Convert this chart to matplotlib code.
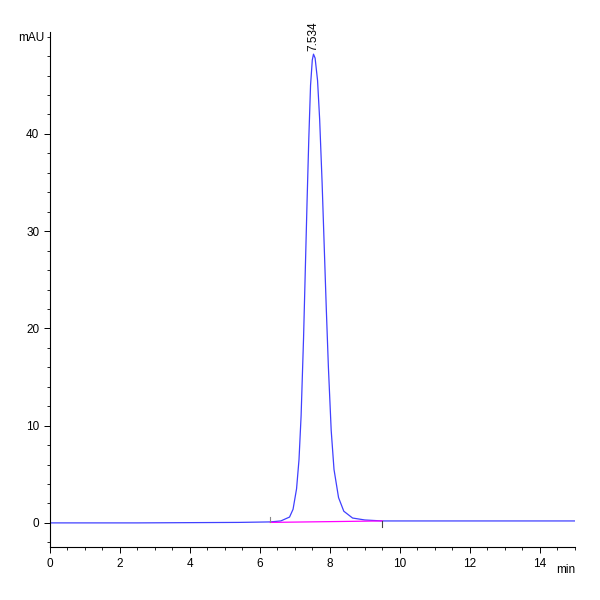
import matplotlib
matplotlib.use("Agg")
import matplotlib.pyplot as plt
from matplotlib.ticker import MultipleLocator

time_min = [0.0, 2.5, 5.4, 6.3, 6.6, 6.85, 6.95, 7.05, 7.12, 7.18, 7.25, 7.30, 7.35, 7.40, 7.45,
            7.50, 7.534, 7.58, 7.65, 7.71, 7.78, 7.84, 7.90, 7.96, 8.04, 8.12, 8.25, 8.40,
            8.65, 9.0, 9.5, 11.0, 15.0]
signal_mau = [0.0, 0.0, 0.05, 0.1, 0.2, 0.6, 1.4, 3.5, 6.5, 11.0, 19.0, 26.0, 33.0, 39.5, 45.0,
              47.6, 48.2, 47.8, 45.5, 41.5, 35.0, 28.5, 22.0, 16.0, 9.5, 5.5, 2.6, 1.2,
              0.5, 0.3, 0.2, 0.2, 0.2]
baseline_t = [6.3, 9.5]
baseline_y = [0.05, 0.2]
peak_rt = 7.534
peak_h = 48.2

plt.rcParams['font.family'] = ['Liberation Sans Narrow', 'Liberation Sans', 'DejaVu Sans']
fig = plt.figure(figsize=(6, 6), dpi=100)
ax = fig.add_axes([0.083, 0.088, 0.875, 0.859])
ax.plot(time_min, signal_mau, color='#4040ff', lw=0.9)
ax.plot(baseline_t, baseline_y, color='#ff00ff', lw=0.9)
ax.plot([6.3, 6.3], [0.05, 0.6], color='#888888', lw=0.8)
ax.plot([9.5, 9.5], [0.2, -0.4], color='#444444', lw=0.8)
ax.text(peak_rt, peak_h + 0.3, "7.534", rotation=90, ha='center', va='bottom', fontsize=8.5)
ax.set_xlim(0, 15)
ax.set_ylim(-2.5, 50.5)
for s in ['top', 'right']:
    ax.spines[s].set_visible(False)
ax.xaxis.set_major_locator(MultipleLocator(2))
ax.xaxis.set_minor_locator(MultipleLocator(0.5))
ax.yaxis.set_major_locator(MultipleLocator(10))
ax.yaxis.set_minor_locator(MultipleLocator(2))
ax.tick_params(direction='out', labelsize=8.5, length=4, width=0.7)
ax.tick_params(which='minor', length=2.5, width=0.6)
ax.set_xticks([0, 2, 4, 6, 8, 10, 12, 14])
ax.set_yticks([0, 10, 20, 30, 40])
ax.text(-0.01, 1.0, "mAU", transform=ax.transAxes, ha='right', va='top', fontsize=8.5)
ax.text(1.0, -0.045, "min", transform=ax.transAxes, ha='right', va='center', fontsize=8.5)
fig.savefig("out.png")
